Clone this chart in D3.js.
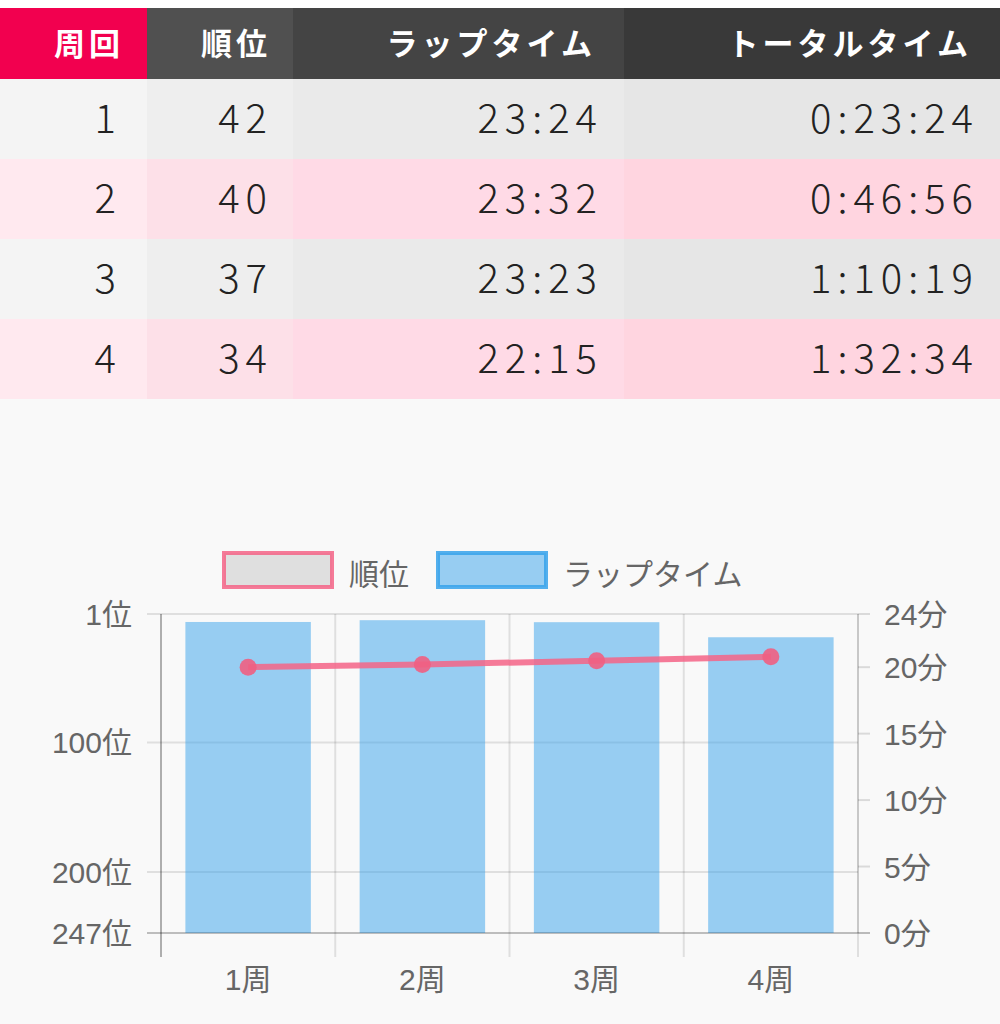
<!DOCTYPE html>
<html><head><meta charset="utf-8">
<script src="https://cdn.jsdelivr.net/npm/d3@7"></script>
<style>
html,body{margin:0;padding:0;background:#f9f9f9;}
svg{display:block;}
</style></head>
<body>
<script>
const headers = ["周回", "順位", "ラップタイム", "トータルタイム"];
const laps = [1, 2, 3, 4];
const ranks = [42, 40, 37, 34];
const lapTimes = ["23:24", "23:32", "23:23", "22:15"];
const totalTimes = ["0:23:24", "0:46:56", "1:10:19", "1:32:34"];
const categories = ["1周", "2周", "3周", "4周"];
const rankTicks = [1, 100, 200, 247];
const minuteTicks = [0, 5, 10, 15, 20, 24];
const legendLabels = ["順位", "ラップタイム"];

const W = 1000, H = 1024;
const svg = d3.select("body").append("svg").attr("width", W).attr("height", H);
svg.append("rect").attr("width", W).attr("height", H).attr("fill", "#f9f9f9");
svg.append("rect").attr("width", W).attr("height", 8).attr("fill", "#ffffff");

// ---------- table ----------
const colEdges = [0, 147, 293, 624, 1000];
const headerFill = ["#f2004f", "#505050", "#444444", "#393939"];
const oddFill = ["#f4f4f4", "#eeeeee", "#eaeaea", "#e6e6e6"];
const evenFill = ["#ffe9ef", "#fde0e8", "#ffdae6", "#ffd5e0"];
const headTop = 8, headH = 71, rowH = 80;
const headRight = [120, 267, 592, 968];
const cellRight = [116, 267, 597, 973];
const headSp = 4, cellSp = 6;

const tbl = svg.append("g");
headers.forEach((h, i) => {
  tbl.append("rect").attr("x", colEdges[i]).attr("y", headTop)
    .attr("width", colEdges[i+1]-colEdges[i]).attr("height", headH).attr("fill", headerFill[i]);
  tbl.append("text").attr("x", headRight[i] + headSp).attr("y", headTop + headH/2 + 11)
    .attr("text-anchor", "end").attr("fill", "#fff")
    .style("font-family", "'Noto Sans CJK JP', sans-serif").style("font-weight", 700)
    .style("font-size", "31px").style("letter-spacing", headSp + "px").text(h);
});
const rows = laps.map((l, i) => [String(l), String(ranks[i]), lapTimes[i], totalTimes[i]]);
rows.forEach((r, ri) => {
  const y0 = headTop + headH + ri*rowH;
  r.forEach((v, ci) => {
    tbl.append("rect").attr("x", colEdges[ci]).attr("y", y0)
      .attr("width", colEdges[ci+1]-colEdges[ci]).attr("height", rowH)
      .attr("fill", ri % 2 === 0 ? oddFill[ci] : evenFill[ci]);
    tbl.append("text").attr("x", cellRight[ci] + cellSp).attr("y", y0 + rowH/2 + 14)
      .attr("text-anchor", "end").attr("fill", "#222")
      .style("font-family", "'Noto Sans CJK JP', sans-serif").style("font-weight", 300)
      .style("font-size", "40px").style("letter-spacing", cellSp + "px").text(v);
  });
});

// ---------- chart ----------
const lapMinutes = lapTimes.map(t => { const [m, s] = t.split(":").map(Number); return m + s/60; });
const pLeft = 161, pRight = 858, pTop = 614, pBottom = 933;
const x = d3.scaleBand().domain(categories).range([pLeft, pRight]).paddingInner(0).paddingOuter(0);
const yRank = d3.scaleLinear().domain([1, 247]).range([pTop, pBottom]);
const yMin = d3.scaleLinear().domain([0, 24]).range([pBottom, pTop]);
const font = "'Liberation Sans', 'Noto Sans CJK JP', sans-serif";
const g = svg.append("g");

// horizontal gridlines (rank ticks)
g.selectAll(".hg").data(rankTicks).join("line")
  .attr("x1", pLeft - 14).attr("x2", pRight)
  .attr("y1", d => yRank(d)).attr("y2", d => yRank(d))
  .attr("stroke", "rgba(0,0,0,0.1)").attr("stroke-width", 2);
// vertical gridlines (category boundaries)
const vEdges = categories.map(c => x(c)).concat([pRight]);
g.selectAll(".vg").data(vEdges.slice(1)).join("line")
  .attr("x1", d => d).attr("x2", d => d)
  .attr("y1", pTop).attr("y2", pBottom + 24)
  .attr("stroke", "rgba(0,0,0,0.1)").attr("stroke-width", 2);

// bars
const barW = x.bandwidth() * 0.72;
g.selectAll(".bar").data(lapMinutes).join("rect")
  .attr("x", (d, i) => x(categories[i]) + (x.bandwidth() - barW)/2)
  .attr("y", d => yMin(d)).attr("width", barW)
  .attr("height", d => yMin(0) - yMin(d))
  .attr("fill", "rgba(54,162,235,0.5)");

// axes lines
g.append("line").attr("x1", pLeft).attr("x2", pLeft).attr("y1", pTop).attr("y2", pBottom + 24)
  .attr("stroke", "rgba(0,0,0,0.3)").attr("stroke-width", 2);
g.append("line").attr("x1", pLeft - 14).attr("x2", pRight + 12).attr("y1", pBottom).attr("y2", pBottom)
  .attr("stroke", "rgba(0,0,0,0.15)").attr("stroke-width", 2);
g.append("line").attr("x1", pRight).attr("x2", pRight).attr("y1", pTop).attr("y2", pBottom)
  .attr("stroke", "rgba(0,0,0,0.1)").attr("stroke-width", 2);
g.selectAll(".rt").data(minuteTicks).join("line")
  .attr("x1", pRight).attr("x2", pRight + 12)
  .attr("y1", d => yMin(d)).attr("y2", d => yMin(d))
  .attr("stroke", "rgba(0,0,0,0.12)").attr("stroke-width", 2);

// line series
const cx = (d, i) => x(categories[i]) + x.bandwidth()/2;
const line = d3.line().x(cx).y(d => yRank(d));
g.append("path").datum(ranks).attr("d", line).attr("fill", "none")
  .attr("stroke", "rgba(245,100,135,0.85)").attr("stroke-width", 6);
g.selectAll(".pt").data(ranks).join("circle")
  .attr("cx", cx).attr("cy", d => yRank(d)).attr("r", 8.5)
  .attr("fill", "rgba(240,95,130,0.9)");

// tick labels
g.selectAll(".lt").data(rankTicks).join("text")
  .attr("x", 132).attr("y", d => yRank(d) + 11).attr("text-anchor", "end")
  .attr("fill", "#666").style("font-family", font).style("font-size", "30px")
  .text(d => d + "位");
g.selectAll(".rtl").data(minuteTicks).join("text")
  .attr("x", 884).attr("y", d => yMin(d) + 11)
  .attr("fill", "#666").style("font-family", font).style("font-size", "30px")
  .text(d => d + "分");
g.selectAll(".xt").data(categories).join("text")
  .attr("x", d => x(d) + x.bandwidth()/2).attr("y", 990).attr("text-anchor", "middle")
  .attr("fill", "#666").style("font-family", font).style("font-size", "30px")
  .text(d => d);

// legend
const legend = [
  {label: legendLabels[0], x: 224, fill: "rgba(0,0,0,0.1)", stroke: "rgba(245,100,135,0.85)"},
  {label: legendLabels[1], x: 438, fill: "rgba(54,162,235,0.5)", stroke: "rgba(54,162,235,0.85)"}
];
legend.forEach(l => {
  g.append("rect").attr("x", l.x).attr("y", 553).attr("width", 108).attr("height", 34)
    .attr("fill", l.fill).attr("stroke", l.stroke).attr("stroke-width", 4);
  g.append("text").attr("x", l.x + 125).attr("y", 585).attr("fill", "#666")
    .style("font-family", font).style("font-size", "30px").text(l.label);
});
</script>
</body></html>
